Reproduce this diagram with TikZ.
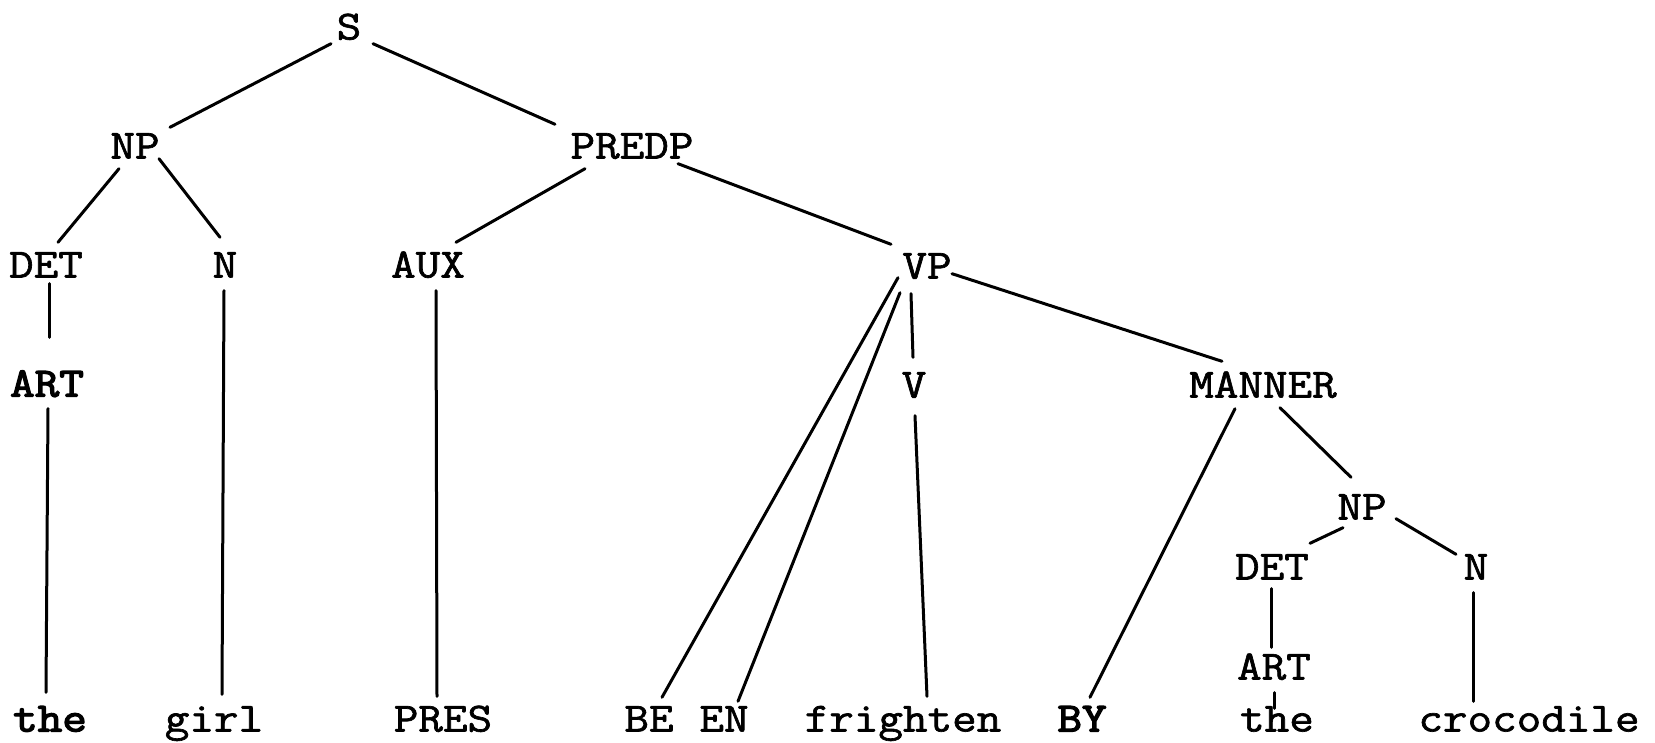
\documentclass[tikz,border=0pt]{standalone}
\usepackage{fontspec}
\newfontfamily\twfont{Latin Modern Mono}[FakeStretch=1.15,FakeBold=1.6]
\newfontfamily\twbfont{Latin Modern Mono}[FakeStretch=1.15,FakeBold=3.2]
\begin{document}
\begin{tikzpicture}[x=1pt,y=-1pt,
  lab/.style={inner sep=0pt, text height=25pt, text depth=0pt, font=\twfont\fontsize{41.5}{48}\selectfont},
  blab/.style={lab, font=\twbfont\fontsize{41.5}{48}\selectfont},
  edge/.style={line width=3pt, line cap=round}]
\fill[white] (0,0) rectangle (1655,743);
\useasboundingbox (0,0) rectangle (1655,743);
% nodes
\node[lab] (S) at (349,27) {S};
\node[lab] (NP) at (135,146) {NP};
\node[lab] (PREDP) at (632,146) {PREDP};
\node[lab] (DET) at (46,265) {DET};
\node[lab] (N) at (225,265) {N};
\node[lab] (AUX) at (428,265) {AUX};
\node[lab] (VP) at (927,266) {VP};
\node[blab] (ART) at (47,384) {ART};
\node[lab] (V) at (914,385) {V};
\node[lab] (MANNER) at (1263,385) {MANNER};
\node[lab] (NPb) at (1362,507) {NP};
\node[lab] (DETb) at (1272,567) {DET};
\node[lab] (Nb) at (1476,567) {N};
\node[lab] (ARTb) at (1274,667) {ART};
\node[blab] (the) at (50,719) {the};
\node[lab] (girl) at (214,719) {girl};
\node[lab] (PRES) at (443,719) {PRES};
\node[lab] (BE) at (649,719) {BE};
\node[lab] (EN) at (724,719) {EN};
\node[lab] (frighten) at (903,719) {frighten};
\node[blab] (BY) at (1082,719) {BY};
\node[lab] (theb) at (1277,719) {the};
\node[lab] (croc) at (1529,719) {crocodile};
% edges
\draw[edge] ([shift={(-18,4)}]S.south) -- ([shift={(35,-6)}]NP.north);
\draw[edge] ([shift={(24,4)}]S.south) -- ([shift={(-77,-9)}]PREDP.north);
\draw[edge] ([shift={(-16,10)}]NP.south) -- ([shift={(12,-10)}]DET.north);
\draw[edge] ([shift={(24,0)}]NP.south) -- ([shift={(-5,-15)}]N.north);
\draw[edge] ([shift={(-47,10)}]PREDP.south) -- ([shift={(28,-10)}]AUX.north);
\draw[edge] ([shift={(46,5)}]PREDP.south) -- ([shift={(-36,-9)}]VP.north);
\draw[edge] ([shift={(3,6)}]DET.south) -- ([shift={(2,-34)}]ART.north);
\draw[edge] ([shift={(1,12)}]ART.south) -- ([shift={(-4,-14)}]the.north);
\draw[edge] ([shift={(-1,13)}]N.south) -- ([shift={(8,-12)}]girl.north);
\draw[edge] ([shift={(8,13)}]AUX.south) -- ([shift={(-6,-10)}]PRES.north);
\draw[edge] ([shift={(-29,-1)}]VP.south) -- ([shift={(13,-9)}]BE.north);
\draw[edge] ([shift={(-27,14)}]VP.south) -- ([shift={(14,-5)}]EN.north);
\draw[edge] ([shift={(-16,15)}]VP.south) -- ([shift={(-1,-15)}]V.north);
\draw[edge] ([shift={(25,-5)}]VP.south) -- ([shift={(-41,-11)}]MANNER.north);
\draw[edge] ([shift={(1,18)}]V.south) -- ([shift={(24,-10)}]frighten.north);
\draw[edge] ([shift={(-28,11)}]MANNER.south) -- ([shift={(8,-9)}]BY.north);
\draw[edge] ([shift={(17,10)}]MANNER.south) -- ([shift={(-11,-17)}]NPb.north);
\draw[edge] ([shift={(-19,8)}]NPb.south) -- ([shift={(38,-11)}]DETb.north);
\draw[edge] ([shift={(34,-1)}]NPb.south) -- ([shift={(-20,0)}]Nb.north);
\draw[edge] ([shift={(-1,9)}]DETb.south) -- ([shift={(-3,-7)}]ARTb.north);
\draw[edge] ([shift={(-3,13)}]Nb.south) -- ([shift={(-56,-5)}]croc.north);
\draw[edge] ([shift={(0,13)}]ARTb.south) -- ([shift={(-3,2)}]theb.north);
\end{tikzpicture}
\end{document}
